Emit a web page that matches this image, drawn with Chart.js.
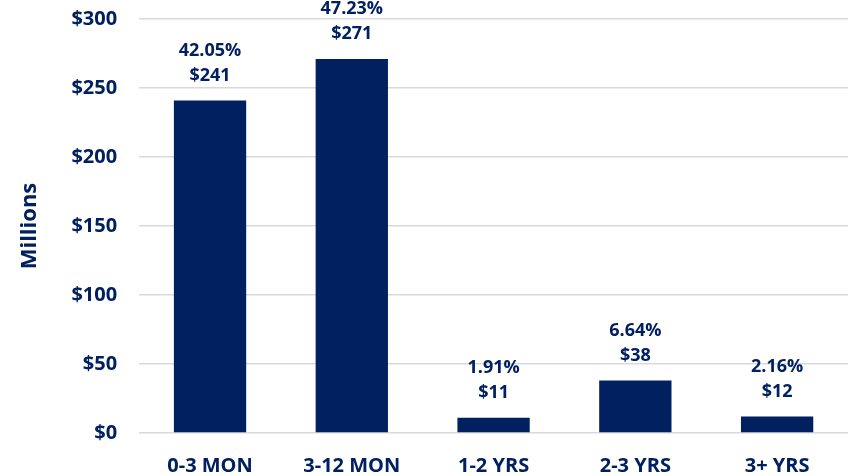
<!DOCTYPE html>
<html lang="en">
<head>
    <meta charset="UTF-8">
    <script src="https://cdn.jsdelivr.net/npm/chart.js@4.4.0/dist/chart.umd.min.js"></script>
    <title>Aging</title>
    <style>
        body { margin: 0; background: #fff; }
        #wrap { width: 848px; height: 476px; }
    </style>
</head>
<body>
    <div id="wrap"><canvas id="myChart" width="848" height="476"></canvas></div>
    <script>
        const categories = ['0-3 MON', '3-12 MON', '1-2 YRS', '2-3 YRS', '3+ YRS'];
        const amounts = [241, 271, 11, 38, 12];
        const shares = ['42.05%', '47.23%', '1.91%', '6.64%', '2.16%'];
        const yTicks = [0, 50, 100, 150, 200, 250, 300];

        const navy = '#002060';
        const fontFamily = '"Open Sans", "Liberation Sans", sans-serif';

        // two-line labels above each bar: share then amount
        const barLabels = {
            id: 'barLabels',
            afterDatasetsDraw(chart) {
                const ctx = chart.ctx;
                const meta = chart.getDatasetMeta(0);
                ctx.save();
                ctx.fillStyle = navy;
                ctx.font = 'bold 18px ' + fontFamily;
                ctx.textAlign = 'center';
                ctx.textBaseline = 'middle';
                meta.data.forEach((bar, i) => {
                    ctx.fillText(shares[i], bar.x, bar.y - 50);
                    ctx.fillText('$' + amounts[i], bar.x, bar.y - 25);
                });
                ctx.restore();
            }
        };

        const ctx = document.getElementById('myChart').getContext('2d');
        new Chart(ctx, {
            type: 'bar',
            data: {
                labels: categories,
                datasets: [{
                    data: amounts,
                    backgroundColor: navy,
                    categoryPercentage: 1,
                    barPercentage: 0.51
                }]
            },
            options: {
                responsive: false,
                animation: false,
                layout: { padding: { top: 19, right: 0, bottom: -15, left: 2 } },
                plugins: {
                    legend: { display: false },
                    tooltip: { enabled: false }
                },
                scales: {
                    x: {
                        grid: { display: false },
                        border: { display: false },
                        ticks: {
                            color: navy,
                            font: { family: fontFamily, size: 20, weight: 'bold' },
                            padding: 13
                        }
                    },
                    y: {
                        min: 0,
                        max: 300,
                        afterBuildTicks: (axis) => { axis.ticks = yTicks.map(v => ({ value: v })); },
                        grid: { color: '#d9d9d9', lineWidth: 1.5, drawTicks: true, tickLength: 22, tickColor: 'rgba(0,0,0,0)' },
                        border: { display: false },
                        ticks: {
                            color: navy,
                            font: { family: fontFamily, size: 20, weight: 'bold' },
                            padding: 0,
                            callback: (v) => '$' + v
                        },
                        title: {
                            display: true,
                            text: 'Millions',
                            color: navy,
                            font: { family: fontFamily, size: 22, weight: 'bold' },
                            padding: { top: 15, bottom: 28 }
                        }
                    }
                }
            },
            plugins: [barLabels]
        });
    </script>
</body>
</html>
